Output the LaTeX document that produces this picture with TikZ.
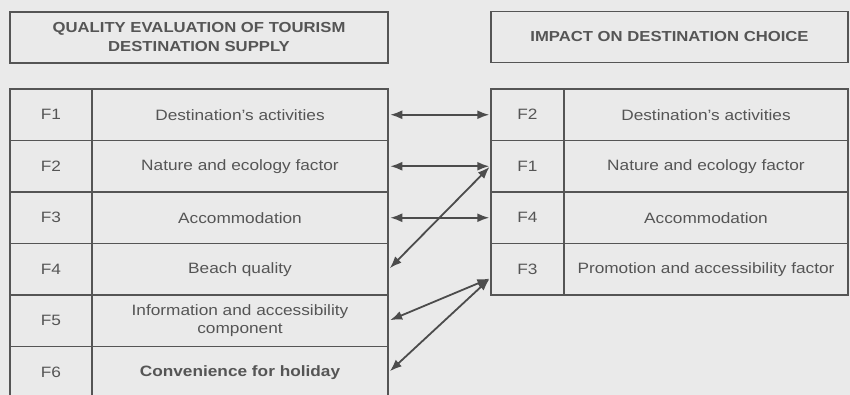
\documentclass[tikz,border=0pt]{standalone}
\usepackage{fontspec}
\setmainfont{Liberation Sans}[FakeStretch=1.15]
\usetikzlibrary{arrows.meta}

\definecolor{scan}{HTML}{EAEAEA}
\definecolor{ink}{HTML}{555555}

\tikzset{
  cell/.style={draw=ink, line width=1.5pt, inner sep=0pt, text=ink, align=center,
    minimum height=51.5pt, font=\fontsize{15}{18}\selectfont},
  head/.style={cell, minimum height=51pt, font=\bfseries\fontsize{14.5}{19}\selectfont},
  link/.style={draw=ink!90!black, line width=1.8pt, {Latex[length=12pt,width=9pt]}-{Latex[length=12pt,width=9pt]},
    shorten <=1.5pt, shorten >=1pt}
}

\begin{document}
\begin{tikzpicture}[x=1pt,y=-1pt]
  \fill[scan] (0,0) rectangle (850,395);
  \useasboundingbox (0,0) rectangle (850,395);

  % headings
  \node[head, minimum width=378pt] (lhead) at (199,37.5) {QUALITY EVALUATION OF TOURISM\\DESTINATION SUPPLY};
  \node[head, minimum width=357pt] (rhead) at (669.5,37) {IMPACT ON DESTINATION CHOICE};

  % supply factors
  \foreach \i/\txt [evaluate=\i as \yc using 89+51.5*(\i-0.5)] in
    {1/Destination's activities, 2/Nature and ecology factor, 3/Accommodation,
     4/Beach quality, 5/{Information and accessibility\\component}, 6/{\bfseries Convenience for holiday}}
  {
    \node[cell, minimum width=82pt] (lf\i) at (51,\yc) {F\i};
    \node[cell, minimum width=296pt] (ld\i) at (240,\yc) {\txt};
  }

  % choice factors
  \foreach \i/\f/\txt [evaluate=\i as \yc using 89+51.5*(\i-0.5)] in
    {1/F2/Destination's activities, 2/F1/Nature and ecology factor, 3/F4/Accommodation,
     4/F3/Promotion and accessibility factor}
  {
    \node[cell, minimum width=73pt] (rf\i) at (527.5,\yc) {\f};
    \node[cell, minimum width=284pt] (rd\i) at (706,\yc) {\txt};
  }

  \coordinate (rin) at ([yshift=-9pt]rf4.west);

  % links
  \draw[link] (ld1.east) -- (rf1.west);
  \draw[link] (ld2.east) -- (rf2.west);
  \draw[link] (ld3.east) -- (rf3.west);
  \draw[link] (ld4.east) -- (rf2.west);
  \draw[link] (ld5.east) -- (rin);
  \draw[link] (ld6.east) -- (rin);
\end{tikzpicture}
\end{document}
